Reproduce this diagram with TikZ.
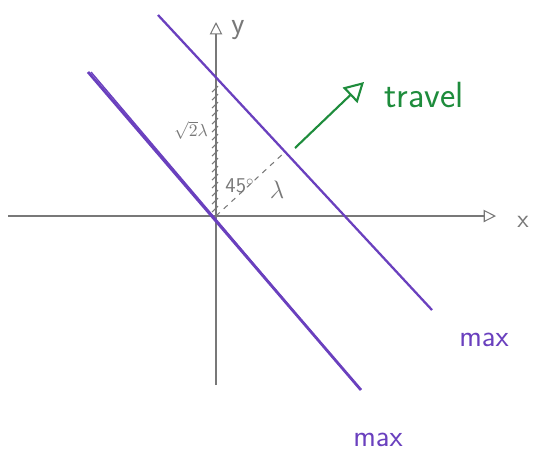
\documentclass[tikz,border=0pt]{standalone}
\usepackage{amsmath,amssymb}
\usepackage{xcolor}
\usepackage{tikz}
\usetikzlibrary{positioning, arrows.meta, calc}

\definecolor{penpurple}{RGB}{106,64,190}
\definecolor{pengreen}{RGB}{30,140,60}
\definecolor{pengray}{RGB}{120,120,120}

\begin{document}
\begin{tikzpicture}[
    x=0.02cm, y=-0.02cm,
    axis/.style={pengray, line width=0.6pt, -{Triangle[open, length=7pt, width=7pt]}},
    wave/.style={penpurple, line width=1.3pt},
    hand/.style={font=\sffamily, inner sep=1pt},
    note/.style={hand, penpurple, font=\sffamily\LARGE},
    travel/.style={pengreen, line width=1.2pt, -{Triangle[open, length=11pt, width=12pt, line width=1.2pt]}}
]
\useasboundingbox (0,0) rectangle (534,458);

% Axes
\coordinate (O) at (216,216);
\coordinate (x_lo) at (8,216);
\coordinate (x_hi) at (496,216);
\coordinate (y_lo) at (216,385);
\coordinate (y_hi) at (216,22);
\draw[axis] (x_lo) -- (x_hi);
\draw[axis] (y_lo) -- (y_hi);
\node[hand, pengray, font=\sffamily\Large] (x_lab) at (523,222) {x};
\node[hand, pengray, font=\sffamily\LARGE] (y_lab) at (238,30) {y};

% Wavefronts
\coordinate (w1_a) at (158,15);
\coordinate (w1_b) at (432,310);
\coordinate (w2_a) at (88,72);
\coordinate (w2_b) at (361,390);
\draw[wave] (w1_a) -- (w1_b);
\draw[wave, line width=1.6pt] (w2_a) -- (w2_b);
\draw[wave, line width=0.8pt] ($(w2_a)+(3,0)$) -- ($(w2_b)+(-2,-2)$);

% Hatching along the y axis
\foreach \y in {86,94,...,206}
  \draw[pengray, line width=0.6pt] (212,\y+6) -- (218,\y);

% Wavelength
\coordinate (foot) at ($(w1_a)!(O)!(w1_b)$);
\draw[pengray, dashed, line width=0.6pt] (O) -- (foot);
\node[hand, pengray, font=\sffamily\normalsize, anchor=east] (sq) at (210,130) {$\sqrt{2}\lambda$};
\node[hand, pengray, font=\sffamily\large] (ang) at (240,186) {45$^\circ$};
\node[hand, pengray, font=\Large] (lam) at (277,190) {$\lambda$};

% Direction of travel
\coordinate (t_from) at (295,148);
\coordinate (t_to) at (364,82);
\draw[travel] (t_from) -- (t_to);
\node[hand, pengreen, font=\sffamily\huge] (t_lab) at (424,95) {travel};

% Maxima
\node[note] (max1) at (484,340) {max};
\node[note] (max2) at (378,440) {max};

\end{tikzpicture}
\end{document}
